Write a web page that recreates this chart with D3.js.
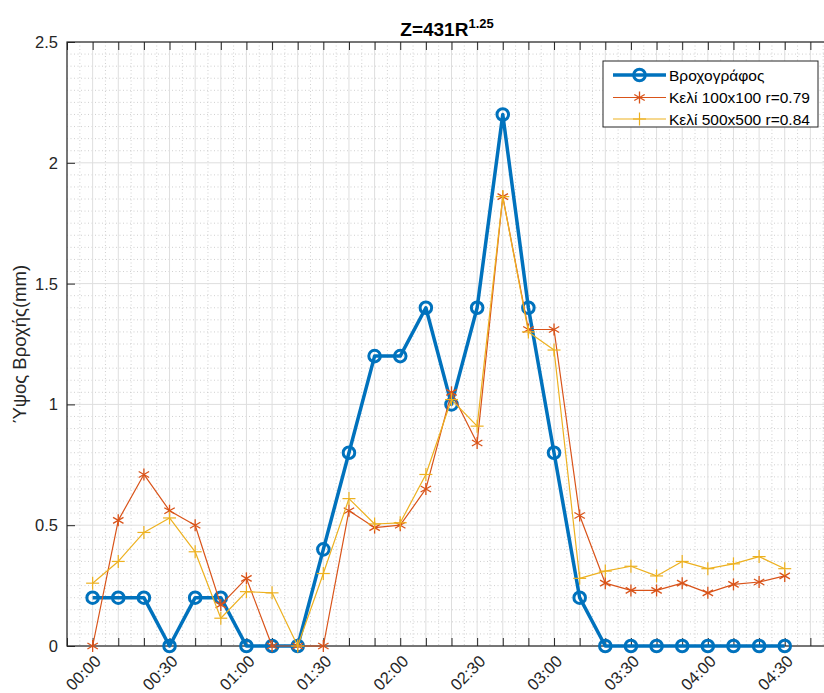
<!DOCTYPE html>
<html>
<head>
<meta charset="utf-8">
<script src="https://cdn.jsdelivr.net/npm/d3@7/dist/d3.min.js"></script>
<style>
  html, body { margin: 0; padding: 0; background: #fff; }
  svg { display: block; font-family: "Liberation Sans", Arial, Helvetica, sans-serif; }
</style>
</head>
<body>
<svg id="chart" width="824" height="693"></svg>
<script>
// 10-minute time steps of the event
const times = ["00:00","00:10","00:20","00:30","00:40","00:50","01:00","01:10","01:20","01:30",
  "01:40","01:50","02:00","02:10","02:20","02:30","02:40","02:50","03:00","03:10",
  "03:20","03:30","03:40","03:50","04:00","04:10","04:20","04:30"];

// rain gauge depth (mm)
const gauge = [0.2,0.2,0.2,0,0.2,0.2,0,0,0,0.4,0.8,1.2,1.2,1.4,1.0,1.4,2.2,1.4,0.8,0.2,
  0,0,0,0,0,0,0,0];

// radar estimate, 100x100 cell
const cell100 = [0,0.52,0.71,0.56,0.50,0.17,0.28,0,0,0,0.56,0.49,0.50,0.65,1.05,0.84,1.86,1.31,1.31,0.54,
  0.26,0.23,0.23,0.26,0.22,0.255,0.265,0.29];

// radar estimate, 500x500 cell
const cell500 = [0.26,0.35,0.47,0.53,0.39,0.115,0.225,0.22,0,0.30,0.61,0.505,0.51,0.71,1.02,0.91,1.86,1.30,1.225,0.28,
  0.31,0.33,0.29,0.35,0.32,0.34,0.37,0.32];

const seriesNames = ["Βροχογράφος", "Κελί 100x100 r=0.79", "Κελί 500x500 r=0.84"];
const xTickLabels = ["00:00","00:30","01:00","01:30","02:00","02:30","03:00","03:30","04:00","04:30"];
const yTicks = [0, 0.5, 1, 1.5, 2, 2.5];
const yTickLabels = ["0","0.5","1","1.5","2","2.5"];
const yLabel = "Ύψος Βροχής(mm)";

const svg = d3.select("#chart");
const W = 824, H = 693;
const m = { left: 67, top: 42, bottom: 646, right: 836 };

const parse = d3.timeParse("%H:%M");
const t0 = parse("00:00");
const xDomain = [d3.timeMinute.offset(t0, -10), d3.timeMinute.offset(t0, 290)];
const x = d3.scaleTime().domain(xDomain).range([m.left, m.right]);
const y = d3.scaleLinear().domain([0, 2.5]).range([m.bottom, m.top]);

const axisColor = "#262626";

svg.append("rect").attr("width", W).attr("height", H).attr("fill", "#fff");

const plot = svg.append("g");

// grid: minor dotted, then major solid
const minorX = d3.timeMinute.every(5).range(xDomain[0], d3.timeMinute.offset(xDomain[1], 1))
  .filter(d => d.getMinutes() % 10 !== 0);
const majorX = d3.timeMinute.every(10).range(xDomain[0], d3.timeMinute.offset(xDomain[1], 1));
const minorY = d3.range(1, 50).map(i => i * 0.05).filter(v => Math.abs(v * 2 - Math.round(v * 2)) > 1e-6);

const grid = plot.append("g");
grid.selectAll(".mx").data(minorX).join("line")
  .attr("x1", d => x(d)).attr("x2", d => x(d)).attr("y1", m.top).attr("y2", m.bottom)
  .attr("stroke", "#c4c4c4").attr("stroke-width", 0.8).attr("stroke-dasharray", "1,2.5");
grid.selectAll(".my").data(minorY).join("line")
  .attr("x1", m.left).attr("x2", m.right).attr("y1", d => y(d)).attr("y2", d => y(d))
  .attr("stroke", "#c4c4c4").attr("stroke-width", 0.8).attr("stroke-dasharray", "1,2.5");
grid.selectAll(".gx").data(majorX).join("line")
  .attr("x1", d => x(d)).attr("x2", d => x(d)).attr("y1", m.top).attr("y2", m.bottom)
  .attr("stroke", "#dedede").attr("stroke-width", 1);
grid.selectAll(".gy").data(yTicks).join("line")
  .attr("x1", m.left).attr("x2", m.right).attr("y1", d => y(d)).attr("y2", d => y(d))
  .attr("stroke", "#dedede").attr("stroke-width", 1);

// axes (ticks pointing inward, box on all sides)
const tickLen = 8;
const xBottom = d3.axisBottom(x).tickValues(majorX).tickSize(-tickLen).tickFormat("");
const xTop = d3.axisTop(x).tickValues(majorX).tickSize(-tickLen).tickFormat("");
const yLeft = d3.axisLeft(y).tickValues(yTicks).tickSize(-tickLen).tickFormat("");

function styleAxis(g) {
  g.select(".domain").remove();
  g.selectAll(".tick line").attr("stroke", axisColor).attr("stroke-width", 1);
}
svg.append("g").attr("transform", `translate(0,${m.bottom})`).call(xBottom).call(styleAxis);
svg.append("g").attr("transform", `translate(0,${m.top})`).call(xTop).call(styleAxis);
svg.append("g").attr("transform", `translate(${m.left},0)`).call(yLeft).call(styleAxis);

svg.append("rect").attr("x", m.left).attr("y", m.top)
  .attr("width", m.right - m.left).attr("height", m.bottom - m.top)
  .attr("fill", "none").attr("stroke", axisColor).attr("stroke-width", 1.2);

// y tick labels
svg.append("g").selectAll("text").data(yTicks).join("text")
  .attr("x", m.left - 9).attr("y", d => y(d))
  .attr("text-anchor", "end").attr("dominant-baseline", "central")
  .attr("font-size", 16.5).attr("fill", axisColor)
  .text((d, i) => yTickLabels[i]);

// x tick labels, rotated
svg.append("g").selectAll("text").data(xTickLabels).join("text")
  .attr("transform", d => `translate(${x(parse(d)) + 5},${m.bottom + 12}) rotate(-45)`)
  .attr("text-anchor", "end").attr("dominant-baseline", "central")
  .attr("font-size", 16.5).attr("fill", axisColor)
  .text(d => d);

// y axis title
svg.append("text")
  .attr("transform", `translate(19,${(m.top + m.bottom) / 2}) rotate(-90)`)
  .attr("text-anchor", "middle").attr("dominant-baseline", "central")
  .attr("font-size", 18.5).attr("fill", axisColor)
  .text(yLabel);

// chart title with superscript exponent
const title = svg.append("text")
  .attr("x", 447).attr("y", 36)
  .attr("text-anchor", "middle").attr("font-size", 19).attr("font-weight", "bold")
  .attr("fill", "#000");
title.append("tspan").text("Z=431R");
title.append("tspan").attr("dy", -8).attr("font-size", 13).text("1.25");

// series
const colors = ["#0072BD", "#D95319", "#EDB120"];
const dataSets = [gauge, cell100, cell500];
const line = d3.line().x(d => x(d.t)).y(d => y(d.v));
const series = dataSets.map(vals => vals.map((v, i) => ({ t: parse(times[i]), v })));

function circleMarker(g, cx, cy, color) {
  g.append("circle").attr("cx", cx).attr("cy", cy).attr("r", 5.8)
    .attr("fill", "none").attr("stroke", color).attr("stroke-width", 3);
}
function starMarker(g, cx, cy, color) {
  const r = 6;
  const p = [[0, -r], [0, r], [-r * 0.87, -r * 0.5], [r * 0.87, r * 0.5], [-r * 0.87, r * 0.5], [r * 0.87, -r * 0.5]];
  for (let k = 0; k < 6; k += 2) {
    g.append("line").attr("x1", cx + p[k][0]).attr("y1", cy + p[k][1])
      .attr("x2", cx + p[k + 1][0]).attr("y2", cy + p[k + 1][1])
      .attr("stroke", color).attr("stroke-width", 1.3);
  }
}
function plusMarker(g, cx, cy, color) {
  const r = 6.5;
  g.append("line").attr("x1", cx - r).attr("x2", cx + r).attr("y1", cy).attr("y2", cy)
    .attr("stroke", color).attr("stroke-width", 1.2);
  g.append("line").attr("x1", cx).attr("x2", cx).attr("y1", cy - r).attr("y2", cy + r)
    .attr("stroke", color).attr("stroke-width", 1.2);
}
const markers = [circleMarker, starMarker, plusMarker];
const widths = [3.5, 1.2, 1.2];

series.forEach((s, k) => {
  const g = svg.append("g");
  g.append("path").datum(s).attr("d", line)
    .attr("fill", "none").attr("stroke", colors[k]).attr("stroke-width", widths[k])
    .attr("stroke-linejoin", "round");
  s.forEach(d => markers[k](g, x(d.t), y(d.v), colors[k]));
});

// legend
const lg = svg.append("g");
lg.append("rect").attr("x", 603).attr("y", 61).attr("width", 215).attr("height", 66)
  .attr("fill", "#fff").attr("stroke", axisColor).attr("stroke-width", 1);
const rowY = [75, 97.5, 119];
seriesNames.forEach((name, k) => {
  lg.append("line").attr("x1", 613).attr("x2", 666).attr("y1", rowY[k]).attr("y2", rowY[k])
    .attr("stroke", colors[k]).attr("stroke-width", widths[k]);
  markers[k](lg, 639.5, rowY[k], colors[k]);
  lg.append("text").attr("x", 669).attr("y", rowY[k]).attr("dominant-baseline", "central")
    .attr("font-size", 15.5).attr("fill", "#000").text(name);
});
</script>
</body>
</html>
